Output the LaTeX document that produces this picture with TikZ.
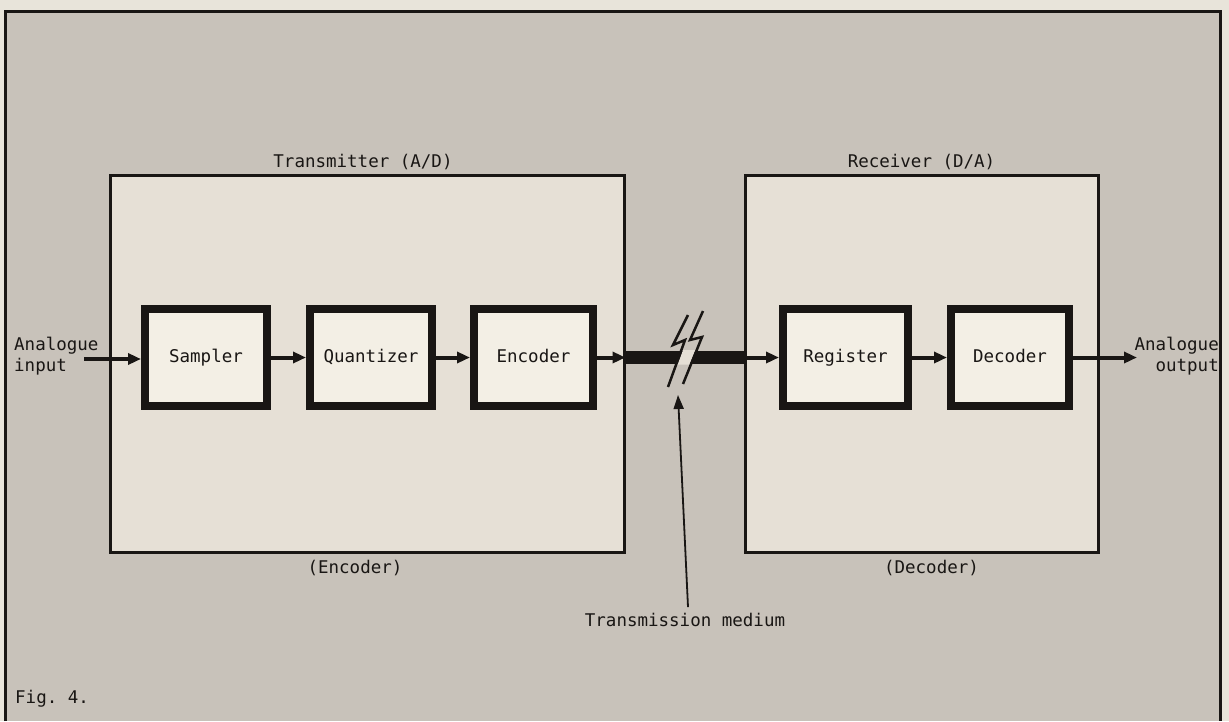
\documentclass[tikz,border=0pt]{standalone}
\usepackage{fontspec}
\setmonofont{DejaVu Sans Mono}
\usepackage{tikz}
\usetikzlibrary{
  arrows.meta,
  positioning
}

\definecolor{paper}{RGB}{232,228,218}
\definecolor{panel}{RGB}{200,194,186}
\definecolor{unitfill}{RGB}{230,224,214}
\definecolor{blockfill}{RGB}{243,239,229}
\definecolor{ink}{RGB}{25,22,20}

\tikzset{
  unit/.style={draw=ink, line width=3pt, fill=unitfill, minimum width=514pt, minimum height=377pt},
  block/.style={draw=ink, line width=8pt, fill=blockfill, minimum width=122pt, minimum height=97pt,
    text height=13pt, text depth=3pt,
    font=\ttfamily\fontsize{17.5}{21}\selectfont, text=ink},
  lbl/.style={font=\ttfamily\fontsize{17.5}{21}\selectfont, text=ink, inner sep=0pt},
  sig/.style={draw=ink, line width=4pt, -{Triangle[length=13pt,width=11pt]}},
  pointer/.style={draw=ink, line width=1.8pt, -{Triangle[length=14pt,width=10pt]}}
}

\begin{document}
\begin{tikzpicture}[x=1pt,y=-1pt]
    \useasboundingbox (0,0) rectangle (1229,721);

    % Paper and frame
    \fill[paper] (0,0) rectangle (1229,721);
    \fill[panel] (5,11) rectangle (1220,721);
    \draw[ink, line width=3pt] (5,721) -- (5,11) -- (1220,11) -- (1220,721);

    % Transmitter and receiver
    \node[unit] (tx) at (367,363.5) {};
    \node[unit, minimum width=353pt] (rx) at (921.5,363.5) {};
    \node[lbl, above=3pt of tx, xshift=-4pt] (txlabel) {Transmitter (A/D)};
    \node[lbl, below=6pt of tx, xshift=-12pt] (txsub) {(Encoder)};
    \node[lbl, above=3pt of rx] (rxlabel) {Receiver (D/A)};
    \node[lbl, below=6pt of rx, xshift=10pt] (rxsub) {(Decoder)};

    % Blocks
    \node[block] (sampler) at (206,357.5) {Sampler};
    \node[block] (quantizer) at (371,357.5) {Quantizer};
    \node[block, minimum width=119pt] (encoder) at (533.5,357.5) {Encoder};
    \node[block, minimum width=125pt] (register) at (845.5,357.5) {Register};
    \node[block, minimum width=118pt] (decoder) at (1010,357.5) {Decoder};

    % Input and output
    \node[lbl, align=left, anchor=west] (inlabel) at (14,356) {Analogue\\input};
    \node[lbl, align=right, anchor=east] (outlabel) at (1219,356) {Analogue\\output};
    \coordinate (inlet) at (84,359);
    \coordinate (outlet) at (1137,357.5);

    % Signal path
    \draw[sig] (inlet) -- (inlet -| sampler.west);
    \draw[sig] (sampler) -- (quantizer);
    \draw[sig] (quantizer) -- (encoder);
    \draw[sig] (encoder) -- (encoder -| tx.east);
    \draw[ink, line width=13pt] (encoder -| tx.east) -- (register -| rx.west);
    \draw[sig] (register -| rx.west) -- (register);
    \draw[sig] (register) -- (decoder);
    \draw[sig] (decoder) -- (outlet);

    % Break in the medium
    \fill[unitfill] (683,350) -- (695.5,350) -- (689.5,364.5) -- (677.5,364.5) -- cycle;
    \draw[ink, line width=2.5pt] (688,315) -- (673,345) -- (685,340) -- (668,387);
    \draw[ink, line width=2.5pt] (703,311) -- (690,340) -- (702,337) -- (683,384);

    % Medium label
    \node[lbl] (medlabel) at (685,620) {Transmission medium};
    \coordinate (medtip) at (678,395);
    \draw[pointer] ([shift={(3,-6)}]medlabel.north) -- (medtip);

    \node[lbl, anchor=west] (figlabel) at (15,699) {Fig. 4.};
\end{tikzpicture}
\end{document}
